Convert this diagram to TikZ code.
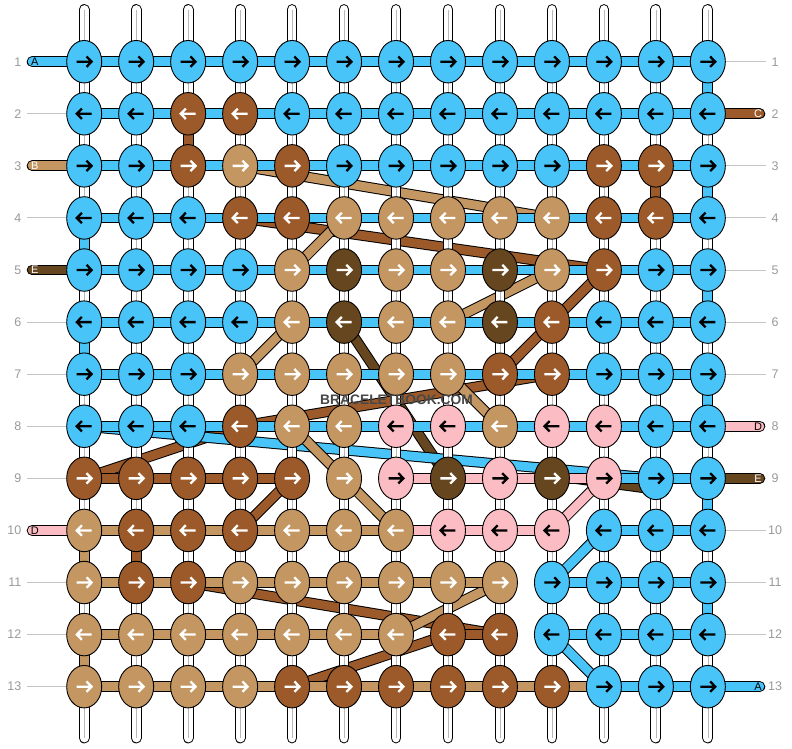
\documentclass[tikz,border=0pt]{standalone}
\usepackage{fontspec}
\setmainfont{Liberation Sans}
\usetikzlibrary{shapes.geometric}
\definecolor{cL}{HTML}{48C4F8}
\definecolor{cB}{HTML}{9C5A2A}
\definecolor{cT}{HTML}{C49662}
\definecolor{cD}{HTML}{66461E}
\definecolor{cP}{HTML}{FCBCC4}
\colorlet{aL}{black}
\colorlet{aP}{black}
\colorlet{aB}{white}
\colorlet{aT}{white}
\colorlet{aD}{white}
\definecolor{labgray}{HTML}{9A9A9A}
\definecolor{linegray}{HTML}{C4C4C4}
\definecolor{wmgray}{HTML}{484848}
\def\nonebar{N}
\begin{document}
\begin{tikzpicture}[x=1pt,y=-1pt,
  barout/.style={draw=black,line width=10.8pt},
  barin/.style={line width=8.8pt},
  cline/.style={draw=black!28,line width=0.7pt},
  knot/.style={ellipse,draw=black,line width=0.9pt,minimum width=35pt,minimum height=42.5pt,inner sep=0pt},
  arrowline/.style={line width=2.3pt,line cap=butt,line join=miter},
  grayline/.style={draw=linegray,line width=1pt},
  rowlab/.style={text=labgray,font=\fontsize{12.5}{12.5}\selectfont,inner sep=0pt},
  taillab/.style={font=\fontsize{11}{11}\selectfont,inner sep=0pt},
  wmtext/.style={font=\fontsize{13.8}{14}\selectfont\bfseries,inner sep=0pt}]
\useasboundingbox (0,0) rectangle (792,748);
\fill[white] (0,0) rectangle (792,748);

% grid coordinates and row labels
\foreach \r in {1,...,13}{
  \pgfmathsetmacro\yy{61.7+52.08*(\r-1)}
  \foreach \c in {1,...,13}{
    \pgfmathsetmacro\xx{84.2+51.97*(\c-1)}
    \coordinate (k-\r-\c) at (\xx,\yy);
  }
  \coordinate (L-\r) at (32.1,\yy);
  \coordinate (R-\r) at (759.8,\yy);
  \coordinate (GL-\r) at (26.5,\yy);
  \coordinate (GR-\r) at (765.5,\yy);
  \node[rowlab,anchor=east] (ll-\r) at (21.5,\yy) {\r};
  \node[rowlab] (lr-\r) at (775,\yy) {\r};
}
\foreach \c in {1,...,13}{
  \pgfmathsetmacro\xx{84.2+51.97*(\c-1)}
  \coordinate (T-\c) at (\xx,9.5);
  \coordinate (U-\c) at (\xx,738);
}

% gray guide lines
\foreach \r in {1,...,13}{
  \draw[grayline] (GL-\r) -- (k-\r-1);
  \draw[grayline] (k-\r-13) -- (GR-\r);
}

% carried (diagonal) strings
\draw[barout] ([yshift=3pt]k-9-10) -- ([yshift=-11pt]k-9-12);
\draw[barin,draw=cD] ([yshift=3pt]k-9-10) -- ([yshift=-11pt]k-9-12);
\foreach \a/\b/\col in {3-4/4-10/T,4-4/5-11/B,5-5/4-6/T,7-4/6-5/T,6-8/5-10/T,6-6/9-8/D,7-9/5-11/B,8-4/7-10/B,9-1/8-4/B,8-1/9-12/L,8-5/10-7/T,7-8/8-9/T,10-4/9-5/B,10-10/9-11/P,11-10/10-11/L,12-10/13-11/L,11-3/12-9/B,13-5/12-8/B,12-7/11-9/T}{
  \draw[barout] (k-\a) -- (k-\b);
  \draw[barin,draw=c\col] (k-\a) -- (k-\b);
}

% vertical base strings (white)
\foreach \c in {1,...,13}{
  \draw[barout,line cap=round] (T-\c) -- (k-1-\c);
  \draw[barin,draw=white,line cap=round] (T-\c) -- (k-1-\c);
  \draw[cline] (T-\c) -- (k-1-\c);
  \draw[barout,line cap=round] (k-13-\c) -- (U-\c);
  \draw[barin,draw=white,line cap=round] (k-13-\c) -- (U-\c);
  \draw[cline] (k-13-\c) -- (U-\c);
  \foreach \r in {1,...,12}{
    \pgfmathtruncatemacro\rn{\r+1}
    \draw[barout] (k-\r-\c) -- (k-\rn-\c);
    \draw[barin,draw=white] (k-\r-\c) -- (k-\rn-\c);
    \draw[cline] (k-\r-\c) -- (k-\rn-\c);
  }
}
% coloured vertical turns
\foreach \c/\r/\col in {13/1/L,3/2/B,12/3/B,13/3/L,1/4/L,13/5/L,1/6/L,13/7/L,13/9/L,1/10/T,2/10/B,13/11/L,1/12/T}{
  \pgfmathtruncatemacro\rn{\r+1}
  \draw[barout] (k-\r-\c) -- (k-\rn-\c);
  \draw[barin,draw=c\col] (k-\r-\c) -- (k-\rn-\c);
}

% horizontal strings
\foreach \r/\hrow in {1/{L,L,L,L,L,L,L,L,L,L,L,L},%
2/{L,L,L,L,L,L,L,L,L,L,L,L},%
3/{L,L,L,L,L,L,L,L,L,L,L,L},%
4/{L,L,L,L,L,L,L,L,L,L,L,L},%
5/{L,L,L,L,L,L,L,L,L,L,L,L},%
6/{L,L,L,L,L,L,L,L,L,L,L,L},%
7/{L,L,L,L,L,L,L,L,L,L,L,L},%
8/{L,L,L,L,L,L,L,L,L,L,L,L},%
9/{B,B,B,B,N,N,P,P,P,P,L,L},%
10/{T,T,T,T,T,T,P,P,P,N,L,L},%
11/{T,T,T,T,T,T,T,T,N,L,L,L},%
12/{T,T,T,T,T,T,N,B,N,L,L,L},%
13/{T,T,T,T,T,T,T,T,T,T,L,L}}{
  \foreach \col [count=\c] in \hrow {
    \ifx\col\nonebar\else
      \pgfmathtruncatemacro\cn{\c+1}
      \draw[barout] (k-\r-\c) -- (k-\r-\cn);
      \draw[barin,draw=c\col] (k-\r-\c) -- (k-\r-\cn);
    \fi
  }
}

% tails
\foreach \r/\col/\lab/\tc in {1/L/A/black,3/T/B/white,5/D/E/white,10/P/D/black}{
  \draw[barout,line cap=round] (L-\r) -- (k-\r-1);
  \draw[barin,draw=c\col,line cap=round] (L-\r) -- (k-\r-1);
  \node[taillab,text=\tc] (tl-\r) at ([xshift=2.8pt]L-\r) {\lab};
}
\foreach \r/\col/\lab/\tc in {2/B/C/white,8/P/D/black,9/D/E/white,13/L/A/black}{
  \draw[barout,line cap=round] (k-\r-13) -- (R-\r);
  \draw[barin,draw=c\col,line cap=round] (k-\r-13) -- (R-\r);
  \node[taillab,text=\tc] (tr-\r) at ([xshift=-1.8pt]R-\r) {\lab};
}

% knots
\foreach \r/\krow in {1/{L,L,L,L,L,L,L,L,L,L,L,L,L},%
2/{L,L,B,B,L,L,L,L,L,L,L,L,L},%
3/{L,L,B,T,B,L,L,L,L,L,B,B,L},%
4/{L,L,L,B,B,T,T,T,T,T,B,B,L},%
5/{L,L,L,L,T,D,T,T,D,T,B,L,L},%
6/{L,L,L,L,T,D,T,T,D,B,L,L,L},%
7/{L,L,L,T,T,T,T,T,B,B,L,L,L},%
8/{L,L,L,B,T,T,P,P,T,P,P,L,L},%
9/{B,B,B,B,B,T,P,D,P,D,P,L,L},%
10/{T,B,B,B,T,T,T,P,P,P,L,L,L},%
11/{T,B,B,T,T,T,T,T,T,L,L,L,L},%
12/{T,T,T,T,T,T,T,B,B,L,L,L,L},%
13/{T,T,T,T,B,B,B,B,B,B,L,L,L}}{
  \pgfmathtruncatemacro\dir{1-2*mod(\r+1,2)}
  \foreach \col [count=\c] in \krow {
    \node[knot,fill=c\col] (n-\r-\c) at (k-\r-\c) {};
    \draw[arrowline,draw=a\col,shift={(k-\r-\c)}] ({-7.5*\dir},0) -- ({6.3*\dir},0)
      ({2.3*\dir},-5.2) -- ({7.4*\dir},0) -- ({2.3*\dir},5.2);
  }
}

% watermark
\node[wmtext,text=wmgray] (wm) at (396.5,400) {BRACELETBOOK.COM};
\end{tikzpicture}
\end{document}
